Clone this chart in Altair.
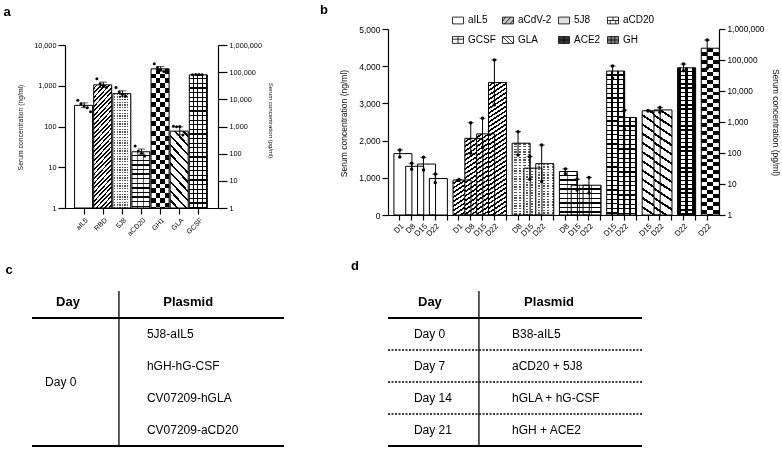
import math
import altair as alt
import pandas as pd

FONT = "Liberation Sans"
W, H = 782, 449

# ---------------- Panel a data ----------------
a_cats = ["aIL5", "RBD", "5J8", "aCD20", "GH1", "GLA", "GCSF"]
a_mean = [330, 1050, 640, 24, 2600, 77, 1850]
a_err_hi = [380, 1230, 750, 28, 2950, 98, 1900]
a_err_lo = [290, 900, 550, 21, 2300, 62, 1800]
a_dots = [
    [440, 360, 320, 290, 230],
    [1480, 1120, 1000, 900],
    [900, 700, 620, 560],
    [33, 25, 22, 19],
    [3450, 2800, 2450, 2250],
    [102, 98, 100, 62],
    [1850, 1900, 1900, 1870],
]
a_left_ticks = [1, 10, 100, 1000, 10000]
a_right_ticks = [1, 10, 100, 1000, 10000, 100000, 1000000]

# ---------------- Panel b data ----------------
b_groups = ["aIL5", "aCdV-2", "5J8", "aCD20", "GCSF", "GLA", "ACE2", "GH"]
b_group_days = [
    ["D1", "D8", "D15", "D22"],
    ["D1", "D8", "D15", "D22"],
    ["D8", "D15", "D22"],
    ["D8", "D15", "D22"],
    ["D15", "D22"],
    ["D15", "D22"],
    ["D22"],
    ["D22"],
]
b_group_unit = ["ng", "ng", "ng", "ng", "pg", "pg", "pg", "pg"]
b_mean = [1650, 1310, 1370, 980,
          940, 2060, 2180, 3560,
          1930, 1260, 1380,
          1170, 800, 800,
          44000, 1400,
          2300, 2450,
          56000,
          240000]
b_rep_hi = [1750, 1390, 1550, 1100,
            955, 2480, 2600, 4170,
            2240, 1570, 1880,
            1240, 960, 1010,
            64000, 2400,
            2350, 2950,
            74000,
            440000]
b_rep_lo = [1560, 1230, 1210, 870,
            925, 1660, 1820, 2960,
            1610, 960, 900,
            1110, 670, 590,
            26000, 580,
            2250, 2050,
            45000,
            54000]
b_left_ticks = [0, 1000, 2000, 3000, 4000, 5000]
b_right_ticks = [1, 10, 100, 1000, 10000, 100000, 1000000]

# ---------------- Tables c and d ----------------
table_headers = ["Day", "Plasmid"]
c_days = ["Day 0"]
c_plasmids = ["5J8-aIL5", "hGH-hG-CSF", "CV07209-hGLA", "CV07209-aCD20"]
d_days = ["Day 0", "Day 7", "Day 14", "Day 21"]
d_plasmids = ["B38-aIL5", "aCD20 + 5J8", "hGLA + hG-CSF", "hGH + ACE2"]
panel_letters = ["a", "b", "c", "d"]

# ---------------- layout (pixels) ----------------
A_X = (65, 218)
A_Y = (208, 45)
B_X = (388, 719)
B_Y = (215, 29)
C_X = (32, 284)
D_X = (388, 642)
T_Y = (286, 446)
LETTER_POS = {"a": (7, 12), "b": (324, 10), "c": (9, 270), "d": (355, 266)}

PATTERN = {"aIL5": "white", "RBD": "fwd", "aCdV-2": "fwd", "5J8": "dots",
           "aCD20": "brick", "GH1": "checker", "GH": "checker", "GLA": "back",
           "GCSF": "grid", "ACE2": "ace2"}

# ---------------- pattern gradients ----------------
CLEAR = "rgba(255,255,255,0)"
SQ2 = math.sqrt(2)


def stops(extent, period, on_frac, on, off):
    p = period / max(extent, 1e-6)
    out = []
    t = 0.0
    while t < 1.0 - 1e-9:
        b = min(1.0, t + p * (1 - on_frac))
        c = min(1.0, t + p)
        out += [(t, off), (b, off), (b, on), (c, on)]
        t = c
    return [alt.GradientStop(offset=round(o, 5), color=col) for o, col in out]


def grad(x1, y1, x2, y2, st):
    return alt.LinearGradient(gradient="linear", x1=x1, y1=y1, x2=x2, y2=y2, stops=st)


def fit(extent, target):
    n = max(1, round(extent / target))
    return extent / n


def vstripes(w, period, frac, on, off):
    return grad(0, 0, 1, 0, stops(w, period, frac, on, off))


def hstripes(h, period, frac, on, off):
    return grad(0, 0, 0, 1, stops(h, period, frac, on, off))


def diag(w, h, period, frac, on, off, forward=True):
    r = h / w
    k = (1 + r) / (1 + r * r)
    st = stops((w + h) / SQ2, period, frac, on, off)
    if forward:
        return grad(0, 0, k, k * r, st)
    return grad(0, 1, k, 1 - k * r, st)


def pattern_fills(pat, w, h):
    if pat == "white":
        return [("white", None)]
    if pat == "fwd":
        return [(diag(w, h, 3.2, 0.42, "black", "white", True), None)]
    if pat == "back":
        return [(diag(w, h, 6.5, 0.26, "black", "white", False), None)]
    if pat == "dots":
        return [(vstripes(w, fit(w, 2.7), 0.5, "#555555", "white"), None),
                (hstripes(h, 2.7, 0.5, "white", CLEAR), None)]
    if pat == "brick":
        return [(hstripes(h, 4.6, 0.3, "black", "white"), None),
                (vstripes(w, fit(w, 6.4), 0.16, "rgba(0,0,0,0.6)", CLEAR), None)]
    if pat == "grid":
        return [(vstripes(w, fit(w, 4.7), 0.28, "black", "white"), None),
                (hstripes(h, 4.6, 0.28, "black", CLEAR), None)]
    if pat == "checker":
        cell = fit(w, 4.6)
        return [(vstripes(w, 2 * cell, 0.5, "black", "white"), None),
                (hstripes(h, 2 * cell, 0.5, "white", CLEAR), "difference")]
    if pat == "ace2":
        base = [(0, "black"), (0.2, "black"), (0.2, "white"), (0.42, "white"),
                (0.42, "black"), (0.58, "black"), (0.58, "white"), (0.8, "white"),
                (0.8, "black"), (1, "black")]
        g = grad(0, 0, 1, 0, [alt.GradientStop(offset=o, color=c) for o, c in base])
        return [(g, None), (hstripes(h, 4.2, 0.35, "black", CLEAR), None)]
    return [("white", None)]


def pattern_layers(df, key, keyval, x_enc, y_enc, base, pat, w, h):
    out = []
    for fill, blend in pattern_fills(pat, w, h):
        kw = dict(fill=fill, strokeWidth=0)
        if blend:
            kw["blend"] = blend
        out.append(
            alt.Chart(df)
            .transform_filter(alt.FieldEqualPredicate(field=key, equal=keyval))
            .mark_bar(**kw)
            .encode(x=x_enc, y=y_enc, y2=alt.datum(base))
        )
    return out


AX = dict(domainColor="black", tickColor="black", labelColor="black", titleColor="#111111",
          labelFont=FONT, titleFont=FONT, grid=False, domainWidth=1.2, tickWidth=1.2,
          labelOverlap=False, titleFontWeight="normal", labelPadding=2)

# ================= Panel a =================
a_df = pd.DataFrame({"cat": a_cats, "mean": a_mean, "hi": a_err_hi, "lo": a_err_lo})
a_dot_df = pd.DataFrame([{"cat": c, "rep": i, "val": v}
                         for c, vals in zip(a_cats, a_dots) for i, v in enumerate(vals)])

a_xscale = alt.Scale(domain=a_cats, range=list(A_X), paddingInner=0, paddingOuter=0.5)
a_yscale = alt.Scale(type="log", domain=[1, 10000], range=list(A_Y), nice=False)
a_rscale = alt.Scale(type="log", domain=[1, 1000000], range=list(A_Y), nice=False)
a_xaxis = alt.Axis(orient="bottom", offset=A_Y[0] - H, title=None, labelAngle=315,
                   labelFontSize=7, tickSize=6, **AX)
a_yaxis = alt.Axis(orient="left", offset=-A_X[0], values=a_left_ticks, format=",",
                   labelFontSize=7.3, tickSize=7, title="Serum concentration (ng/ml)",
                   titleFontSize=6.8, titleAngle=270, titleX=20 - A_X[0], titleY=127,
                   titleAlign="center", titleBaseline="middle", **AX)
a_raxis = alt.Axis(orient="right", offset=A_X[1] - W, values=a_right_ticks, format=",",
                   labelFontSize=7.3, tickSize=9, title="Serum concentration (pg/ml)",
                   titleFontSize=6, titleAngle=90, titleX=270 - A_X[1], titleY=120,
                   titleAlign="center", titleBaseline="middle", **AX)

ax_x = alt.X("cat:N", scale=a_xscale, axis=a_xaxis, sort=a_cats)
a_step = (A_X[1] - A_X[0]) / (len(a_cats) + 1)
a_layers = []
for c, m in zip(a_cats, a_mean):
    h = math.log10(m) / 4 * (A_Y[0] - A_Y[1])
    a_layers += pattern_layers(a_df, "cat", c, ax_x,
                               alt.Y("mean:Q", scale=a_yscale, axis=a_yaxis), 1,
                               PATTERN[c], a_step, h)
a_layers.append(alt.Chart(a_df).mark_bar(fillOpacity=0, stroke="black", strokeWidth=1).encode(
    x=ax_x, y=alt.Y("mean:Q", scale=a_yscale, axis=a_yaxis), y2=alt.datum(1)))
a_layers.append(alt.Chart(a_df).mark_rule(color="black", strokeWidth=1).encode(
    x=ax_x, y=alt.Y("lo:Q", scale=a_yscale, axis=a_yaxis), y2="hi:Q"))
for fld in ["hi", "lo"]:
    a_layers.append(alt.Chart(a_df).mark_tick(color="black", size=7, thickness=1).encode(
        x=ax_x, y=alt.Y(f"{fld}:Q", scale=a_yscale, axis=a_yaxis)))
a_layers.append(alt.Chart(a_dot_df).mark_point(filled=True, color="black", size=9, opacity=1).encode(
    x=ax_x, xOffset=alt.XOffset("rep:O", scale=alt.Scale(paddingOuter=1.0)),
    y=alt.Y("val:Q", scale=a_yscale, axis=a_yaxis)))
a_left = alt.layer(*a_layers)
a_right = alt.Chart(pd.DataFrame({"tick": a_right_ticks})).mark_point(opacity=0).encode(
    y=alt.Y("tick:Q", scale=a_rscale, axis=a_raxis))
panel_a = alt.layer(a_left, a_right).resolve_scale(y="independent")

# ================= Panel b =================
b_slots, b_slot_ids, b_grp, b_unit = [], [], [], []
for gi, (g, days, u) in enumerate(zip(b_groups, b_group_days, b_group_unit)):
    if gi > 0:
        b_slots.append(f"gap{gi}")
    for d in days:
        sid = f"{g}|{d}"
        b_slots.append(sid)
        b_slot_ids.append(sid)
        b_grp.append(g)
        b_unit.append(u)

b_df = pd.DataFrame({"slot": b_slot_ids, "grp": b_grp, "unit": b_unit,
                     "mean": b_mean, "hi": b_rep_hi, "lo": b_rep_lo})
b_dot_df = pd.DataFrame({"slot": b_slot_ids * 2, "unit": b_unit * 2,
                         "val": b_rep_hi + b_rep_lo})

b_xscale = alt.Scale(domain=b_slots, range=list(B_X), paddingInner=0, paddingOuter=0.5)
b_lscale = alt.Scale(type="linear", domain=[0, 5000], range=list(B_Y), nice=False)
b_rscale = alt.Scale(type="log", domain=[1, 1000000], range=list(B_Y), nice=False)
b_xaxis = alt.Axis(orient="bottom", offset=B_Y[0] - H, title=None, labelAngle=315,
                   labelFontSize=7.8, tickSize=5,
                   labelExpr="indexof(datum.value, '|') >= 0 ? split(datum.value, '|')[1] : ''",
                   **AX)
b_laxis = alt.Axis(orient="left", offset=-B_X[0], values=b_left_ticks,
                   labelExpr="format(datum.value, ',.0f')",
                   labelFontSize=8.5, tickSize=6, title="Serum concentration (ng/ml)",
                   titleFontSize=8.5, titleAngle=270, titleX=343 - B_X[0], titleY=123,
                   titleAlign="center", titleBaseline="middle", **AX)
b_raxis = alt.Axis(orient="right", offset=B_X[1] - W, values=b_right_ticks, format=",",
                   labelFontSize=8.3, tickSize=6, title="Serum concentration (pg/ml)",
                   titleFontSize=8.5, titleAngle=90, titleX=775 - B_X[1], titleY=122,
                   titleAlign="center", titleBaseline="middle", **AX)

bx = alt.X("slot:N", scale=b_xscale, axis=b_xaxis)
b_step = (B_X[1] - B_X[0]) / (len(b_slots) + 1)


def b_half(unit, yscale, yaxis, base):
    sub = b_df[b_df["unit"] == unit].reset_index(drop=True)
    dots = b_dot_df[b_dot_df["unit"] == unit].reset_index(drop=True)
    layers = []
    for sid, g, m in zip(sub["slot"], sub["grp"], sub["mean"]):
        if unit == "ng":
            h = m / 5000 * (B_Y[0] - B_Y[1])
        else:
            h = math.log10(m) / 6 * (B_Y[0] - B_Y[1])
        layers += pattern_layers(sub, "slot", sid, bx,
                                 alt.Y("mean:Q", scale=yscale, axis=yaxis), base,
                                 PATTERN[g], b_step, h)
    layers.append(alt.Chart(sub).mark_bar(fillOpacity=0, stroke="black", strokeWidth=1).encode(
        x=bx, y=alt.Y("mean:Q", scale=yscale, axis=yaxis), y2=alt.datum(base)))
    layers.append(alt.Chart(sub).mark_rule(color="black", strokeWidth=1).encode(
        x=bx, y=alt.Y("lo:Q", scale=yscale, axis=yaxis), y2="hi:Q"))
    layers.append(alt.Chart(sub).mark_tick(color="black", size=6, thickness=1).encode(
        x=bx, y=alt.Y("hi:Q", scale=yscale, axis=yaxis)))
    layers.append(alt.Chart(dots).mark_point(filled=True, color="black", size=12, opacity=1).encode(
        x=bx, y=alt.Y("val:Q", scale=yscale, axis=yaxis)))
    return alt.layer(*layers)


panel_b = alt.layer(b_half("ng", b_lscale, b_laxis, 0),
                    b_half("pg", b_rscale, b_raxis, 1)).resolve_scale(y="independent")

# legend for panel b
R = "M-1,-0.62H1V0.62H-1Z"
leg_shapes = [
    R,
    R + "M-1,0.1L-0.4,-0.62M-0.6,0.62L0.5,-0.62M0.35,0.62L1,-0.1",
    R,
    R + "M-1,0H1M0,-0.62V0M-0.5,0V0.62M0.5,0V0.62",
    R + "M0,-0.62V0.62M-1,-0.15H1",
    R + "M-1,-0.62L0.25,0.62M-0.25,-0.62L1,0.62",
    R + "M-1,0H1M0,-0.62V0.62",
    R + "M-0.33,-0.62V0.62M0.33,-0.62V0.62M-1,0H1",
]
leg_fills = ["white", "#c4c4c4", "#e0e0e0", "white", "white", "white", "#3a3a3a", "#888888"]
b_legend = alt.Legend(title=None, orient="none", legendX=452, legendY=14, columns=4,
                      direction="horizontal",
                      labelFont=FONT, labelFontSize=10, labelColor="black", symbolSize=121,
                      symbolStrokeColor="black", symbolStrokeWidth=0.8, rowPadding=8,
                      columnPadding=4, padding=0, labelOffset=4)
legend_layer = alt.Chart(pd.DataFrame({"grp": pd.Series([], dtype="object")})).mark_point(
    filled=True, stroke="black", strokeWidth=0.8, size=121, opacity=1).encode(
    color=alt.Color("grp:N", scale=alt.Scale(domain=b_groups, range=leg_fills), legend=b_legend),
    shape=alt.Shape("grp:N", scale=alt.Scale(domain=b_groups, range=leg_shapes), legend=b_legend))

# ================= Tables =================
t_yscale = alt.Scale(domain=[0, 5], range=list(T_Y), nice=False, zero=False)


def make_table(xr, days, plasmids, day_x, day_rows, head_x, plas_x, div_x, dashed):
    xs = alt.Scale(domain=[0, 1], range=list(xr), nice=False, zero=False)
    X = lambda f: alt.X(f, scale=xs, axis=None)
    Y = lambda f: alt.Y(f, scale=t_yscale, axis=None)
    head = pd.DataFrame({"text": table_headers, "xu": head_x, "yu": [0.5, 0.5]})
    dayd = pd.DataFrame({"text": days, "xu": day_x, "yu": day_rows})
    plas = pd.DataFrame({"text": plasmids, "xu": plas_x,
                         "yu": [i + 1.5 for i in range(len(plasmids))]})
    solid = pd.DataFrame({"x": [0, 0, div_x], "x2": [1, 1, div_x],
                          "y": [1, 5, 0.16], "y2": [1, 5, 5], "w": [1.8, 1.8, 1.3]})
    layers = [
        alt.Chart(head).mark_text(font=FONT, fontSize=13, fontWeight="bold", align="center",
                                  baseline="middle", color="black").encode(
            x=X("xu:Q"), y=Y("yu:Q"), text="text:N"),
        alt.Chart(dayd).mark_text(font=FONT, fontSize=12, align="left", baseline="middle",
                                  color="black").encode(x=X("xu:Q"), y=Y("yu:Q"), text="text:N"),
        alt.Chart(plas).mark_text(font=FONT, fontSize=12, align="left", baseline="middle",
                                  color="black").encode(x=X("xu:Q"), y=Y("yu:Q"), text="text:N"),
        alt.Chart(solid).mark_rule(color="black").encode(
            x=X("x:Q"), x2="x2:Q", y=Y("y:Q"), y2="y2:Q",
            strokeWidth=alt.StrokeWidth("w:Q", scale=None)),
    ]
    if dashed:
        dl = pd.DataFrame({"x": [0, 0, 0], "x2": [1, 1, 1], "y": [2, 3, 4]})
        layers.append(alt.Chart(dl).mark_rule(color="black", strokeWidth=1.3, strokeDash=[2, 1.5]).encode(
            x=X("x:Q"), x2="x2:Q", y=Y("y:Q")))
    return alt.layer(*layers)


table_c = make_table(C_X, c_days, c_plasmids, [0.052], [3.0], [0.143, 0.62], 0.456, 0.345, False)
table_d = make_table(D_X, d_days, d_plasmids, 0.102, [1.5, 2.5, 3.5, 4.5], [0.165, 0.634], 0.488,
                     0.358, True)

# ================= Panel letters =================
letters_df = pd.DataFrame({"t": panel_letters})
letter_layers = []
for l in panel_letters:
    px, py = LETTER_POS[l]
    letter_layers.append(
        alt.Chart(letters_df).transform_filter(alt.FieldEqualPredicate(field="t", equal=l))
        .mark_text(font=FONT, fontSize=13, fontWeight="bold", align="center", baseline="middle",
                   color="black")
        .encode(text="t:N", x=alt.value(px), y=alt.value(py)))

chart = (
    alt.layer(panel_a, panel_b, table_c, table_d, legend_layer, *letter_layers)
    .resolve_scale(x="independent", y="independent")
    .properties(width=W, height=H, padding=0, background="white",
                autosize=alt.AutoSizeParams(type="none"))
    .configure(font=FONT)
    .configure_view(stroke=None)
)

chart.save("out.html", embed_options={"renderer": "svg", "actions": False})
